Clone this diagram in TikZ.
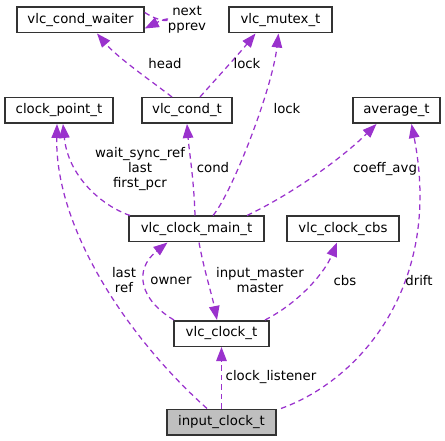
\documentclass[tikz,border=0pt]{standalone}
\usepackage{fontspec}
\setmainfont{DejaVu Sans}
\usetikzlibrary{arrows.meta}
\definecolor{edgecol}{HTML}{9A32CD}
\definecolor{boxline}{HTML}{333333}
\definecolor{rootfill}{HTML}{BFBFBF}
\tikzset{
  cls/.style={draw=boxline, line width=1.5pt, fill=white, inner sep=0pt, minimum height=25.5pt, font=\fontsize{13.3}{15.3}\selectfont},
  root/.style={cls, fill=rootfill},
  rel/.style={draw=edgecol, line width=1.25pt, dash pattern=on 5.5pt off 4pt, -{Triangle[length=14pt,width=10.5pt]}},
  lbl/.style={inner sep=0pt, align=center, font=\fontsize{13.3}{15.3}\selectfont}
}
\begin{document}
\begin{tikzpicture}[x=1pt,y=-1pt]
\useasboundingbox (0,0) rectangle (445,441);
% nodes
\node[cls, minimum width=127pt] (cw) at (80.5,20) {vlc\_cond\_waiter};
\node[cls, minimum width=103pt] (mutex) at (280.5,20) {vlc\_mutex\_t};
\node[cls, minimum width=108pt] (cpt) at (59,110.5) {clock\_point\_t};
\node[cls, minimum width=90pt] (cond) at (187,110.5) {vlc\_cond\_t};
\node[cls, minimum width=87pt] (avg) at (396.5,110.5) {average\_t};
\node[cls, minimum width=135pt] (main) at (196.5,229) {vlc\_clock\_main\_t};
\node[cls, minimum width=112pt] (cbs) at (343,229) {vlc\_clock\_cbs};
\node[cls, minimum width=95pt] (clk) at (221.5,333.5) {vlc\_clock\_t};
\node[root, minimum width=109pt] (ic) at (221.5,422) {input\_clock\_t};
% edges
\draw[rel] ([yshift=7.5pt]cw.east) .. controls (172,30) and (178,12) .. ([yshift=-8.5pt]cw.east);
\draw[rel] ([xshift=-15pt]cond.north) .. controls (150,80) and (118,58) .. ([xshift=16.5pt]cw.south);
\draw[rel] ([xshift=13pt]cond.north) .. controls (215,80) and (238,55) .. ([xshift=-25pt]mutex.south);
\draw[rel] ([xshift=16.5pt]main.north) .. controls (232,193) and (272,90) .. ([xshift=-2pt]mutex.south);
\draw[rel] ([xshift=-66.5pt]main.north) .. controls (100,205) and (68,175) .. ([xshift=4pt]cpt.south);
\draw[rel] ([xshift=-1.5pt]main.north) .. controls (194,180) and (189,150) .. (cond.south);
\draw[rel] ([xshift=50.5pt]main.north) .. controls (290,195) and (340,160) .. ([xshift=-20pt]avg.south);
\draw[rel] ([xshift=-47.5pt]clk.north) .. controls (140,300) and (133,270) .. ([xshift=-29pt]main.south);
\draw[rel] ([xshift=2.5pt]main.south) .. controls (204,270) and (212,295) .. ([xshift=-4.5pt]clk.north);
\draw[rel] ([xshift=43.5pt]clk.north) .. controls (300,302) and (325,272) .. ([xshift=-6pt]cbs.south);
\draw[rel] (ic.north) -- (clk.south);
\draw[rel] ([xshift=-14.5pt]ic.north) .. controls (130,340) and (55,230) .. ([xshift=-2pt]cpt.south);
\draw[rel] ([xshift=59.5pt]ic.north) .. controls (360,380) and (443,285) .. ([xshift=15pt]avg.south);
% labels
\node[lbl] (l1) at (187,19.5) {next\\pprev};
\node[lbl] (l2) at (165,63.5) {head};
\node[lbl] (l3) at (247,64) {lock};
\node[lbl] (l4) at (287,109) {lock};
\node[lbl] (l5) at (140,169) {wait\_sync\_ref\\last\\first\_pcr};
\node[lbl] (l6) at (213,168) {cond};
\node[lbl] (l7) at (385,169) {coeff\_avg};
\node[lbl] (l8) at (124,280) {last\\ref};
\node[lbl] (l9) at (171,281) {owner};
\node[lbl] (l10) at (260,280) {input\_master\\master};
\node[lbl] (l11) at (345,281) {cbs};
\node[lbl] (l12) at (419,281) {drift};
\node[lbl] (l13) at (271,377) {clock\_listener};
\end{tikzpicture}
\end{document}
